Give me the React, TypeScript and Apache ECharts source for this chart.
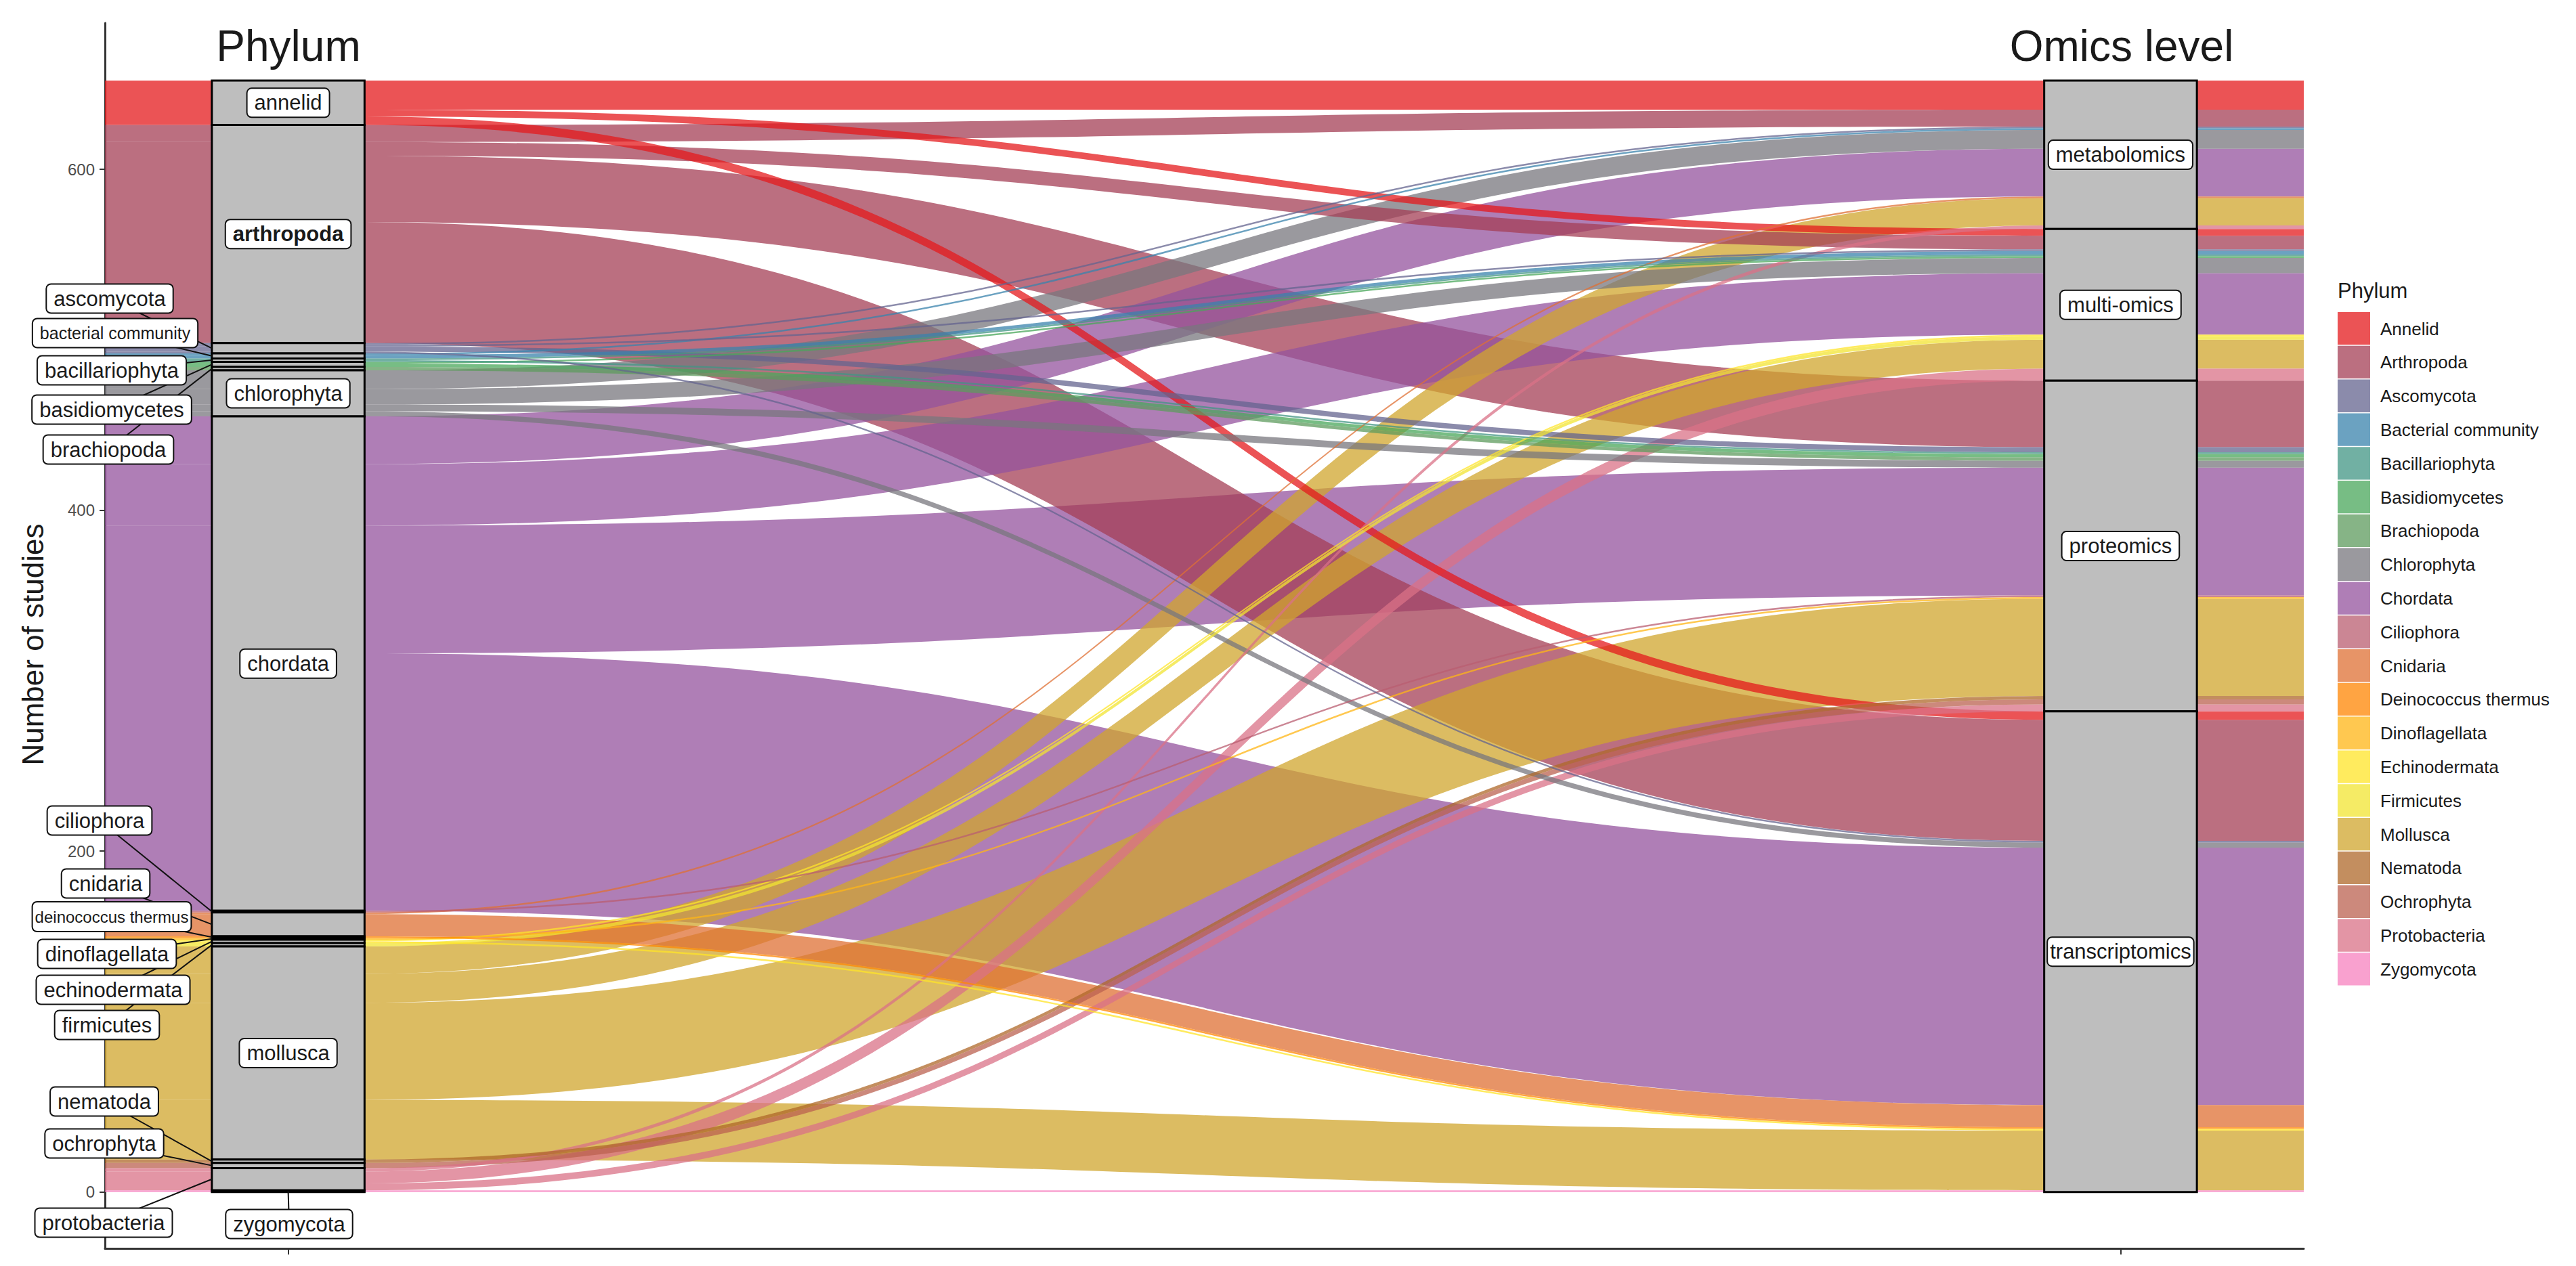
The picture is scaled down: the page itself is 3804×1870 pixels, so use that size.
import React, { useEffect, useRef } from "react";
import * as echarts from "echarts";

// ---------------- data ----------------
const phyla = [
  "annelid", "arthropoda", "ascomycota", "bacterial community", "bacillariophyta",
  "basidiomycetes", "brachiopoda", "chlorophyta", "chordata", "ciliophora",
  "cnidaria", "deinococcus thermus", "dinoflagellata", "echinodermata", "firmicutes",
  "mollusca", "nematoda", "ochrophyta", "protobacteria", "zygomycota",
];
const legendNames = [
  "Annelid", "Arthropoda", "Ascomycota", "Bacterial community", "Bacillariophyta",
  "Basidiomycetes", "Brachiopoda", "Chlorophyta", "Chordata", "Ciliophora",
  "Cnidaria", "Deinococcus thermus", "Dinoflagellata", "Echinodermata", "Firmicutes",
  "Mollusca", "Nematoda", "Ochrophyta", "Protobacteria", "Zygomycota",
];
const omicsLevels = ["metabolomics", "multi-omics", "proteomics", "transcriptomics"];

// studies per phylum (same order as phyla) for each omics level
const metabolomics =    [17, 10, 1, 1, 0, 0, 0, 11, 28, 0, 1, 0, 0, 0, 0, 16, 0, 0, 2, 0];
const multiOmics =      [4, 8, 1, 2, 1, 1, 0, 9, 36, 0, 0, 0, 0, 1, 2, 17, 0, 0, 7, 0];
const proteomics =      [0, 39, 3, 0, 1, 2, 2, 4, 75, 1, 0, 0, 1, 0, 0, 57, 2, 3, 4, 0];
const transcriptomics = [5, 71, 1, 0, 0, 0, 0, 3, 151, 0, 13, 1, 0, 1, 0, 35, 0, 0, 0, 1];

const yTickValues = [0, 200, 400, 600];

const phylumColors = [
  "#E41A1C", "#A43F55", "#64648F", "#3983AC", "#419584",
  "#4AA75B", "#5D9B5D", "#78777E", "#94539E", "#B95E70",
  "#DF7034", "#FF8603", "#FFB515", "#FFE428", "#F1E431",
  "#D0A62D", "#AF6829", "#BB6150", "#D97187", "#F781BF",
];

// ---------------- layout ----------------
const FONT = '"Liberation Sans", Arial, Helvetica, sans-serif';
const X_MIN = 0.9;
const X_MAX = 2.1;
const STRATUM_W = 1 / 12;
const Y_MIN = -33.1;
const Y_MAX = 685.8;
const FLOW_OPACITY = 0.75;
const LABEL_SIZE = 31;

const repelLayout: Record<string, { x: number; y: number; size?: number; pad?: number[]; below?: boolean }> = {
  ascomycota: { x: 162, y: 441 },
  "bacterial community": { x: 170, y: 492, size: 25, pad: [8, 10] },
  bacillariophyta: { x: 165, y: 547 },
  basidiomycetes: { x: 165, y: 605 },
  brachiopoda: { x: 160, y: 664 },
  ciliophora: { x: 147, y: 1212 },
  cnidaria: { x: 156, y: 1305 },
  "deinococcus thermus": { x: 165, y: 1354, size: 24, pad: [9, 3] },
  dinoflagellata: { x: 158, y: 1409 },
  echinodermata: { x: 167, y: 1462 },
  firmicutes: { x: 158, y: 1514 },
  nematoda: { x: 154, y: 1627 },
  ochrophyta: { x: 154, y: 1689 },
  protobacteria: { x: 153, y: 1806 },
  zygomycota: { x: 427, y: 1808, below: true },
};

function buildOption() {
  const omicsSeries = [metabolomics, multiOmics, proteomics, transcriptomics];
  const phylumTotals = phyla.map((_, i) => omicsSeries.reduce((s, a) => s + a[i], 0));
  const omicsTotals = omicsSeries.map((a) => a.reduce((s, v) => s + v, 0));
  const grand = omicsTotals.reduce((s, v) => s + v, 0);

  const leftTop: number[] = [];
  let acc = grand;
  phylumTotals.forEach((t) => { leftTop.push(acc); acc -= t; });
  const rightTop: number[] = [];
  acc = grand;
  omicsTotals.forEach((t) => { rightTop.push(acc); acc -= t; });

  // lode positions
  const ylMap: Record<string, number> = {};
  phyla.forEach((_, i) => {
    let t = leftTop[i];
    omicsSeries.forEach((arr, j) => {
      const c = arr[i];
      if (c > 0) { ylMap[i + "_" + j] = t; t -= c; }
    });
  });
  const flows: number[][] = [];
  omicsSeries.forEach((arr, j) => {
    let t = rightTop[j];
    phyla.forEach((_, i) => {
      const c = arr[i];
      if (c > 0) {
        flows.push([1, ylMap[i + "_" + j], t, c, i, j]);
        t -= c;
      }
    });
  });
  flows.sort((a, b) => b[3] - a[3]);

  const strata: number[][] = [];
  phyla.forEach((_, i) => strata.push([1, leftTop[i], leftTop[i] - phylumTotals[i], 0, i]));
  omicsLevels.forEach((_, j) => strata.push([2, rightTop[j], rightTop[j] - omicsTotals[j], 1, j]));

  const labels: number[][] = strata.map((s) => [s[0], (s[1] + s[2]) / 2, s[3], s[4]]);

  const f = (p: number[]) => p[0].toFixed(2) + "," + p[1].toFixed(2);

  const renderFlow = (params: any, api: any) => {
    const yl = api.value(1), yr = api.value(2), c = api.value(3), i = api.value(4);
    const xa = X_MIN, xb = 1 + STRATUM_W / 2, xc = 2 - STRATUM_W / 2, xd = X_MAX;
    const a0 = api.coord([xa, yl]), a1 = api.coord([xb, yl]);
    const b1 = api.coord([xc, yr]), b0 = api.coord([xd, yr]);
    const c0 = api.coord([xd, yr - c]), c1 = api.coord([xc, yr - c]);
    const d1 = api.coord([xb, yl - c]), d0 = api.coord([xa, yl - c]);
    const mx = (a1[0] + b1[0]) / 2;
    const pathData =
      "M" + f(a0) + " L" + f(a1) +
      " C" + f([mx, a1[1]]) + " " + f([mx, b1[1]]) + " " + f(b1) +
      " L" + f(b0) + " L" + f(c0) + " L" + f(c1) +
      " C" + f([mx, c1[1]]) + " " + f([mx, d1[1]]) + " " + f(d1) +
      " L" + f(d0) + " Z";
    return {
      type: "path",
      shape: { pathData },
      style: { fill: phylumColors[i], opacity: FLOW_OPACITY },
    };
  };

  const renderStratum = (params: any, api: any) => {
    const x = api.value(0), top = api.value(1), bot = api.value(2);
    const p1 = api.coord([x - STRATUM_W / 2, top]);
    const p2 = api.coord([x + STRATUM_W / 2, bot]);
    return {
      type: "rect",
      shape: { x: p1[0], y: p1[1], width: p2[0] - p1[0], height: p2[1] - p1[1] },
      style: { fill: "#BEBEBE", stroke: "#000", lineWidth: 3 },
    };
  };

  const nameOf = (kind: number, idx: number) => (kind === 0 ? phyla[idx] : omicsLevels[idx]);

  const renderSegment = (params: any, api: any) => {
    const x = api.value(0), yc = api.value(1), kind = api.value(2), idx = api.value(3);
    const lay = kind === 0 ? repelLayout[nameOf(kind, idx)] : undefined;
    if (!lay) return null;
    const target = lay.below ? api.coord([x, yc]) : api.coord([x - STRATUM_W / 2, yc]);
    return {
      type: "line",
      shape: { x1: lay.x, y1: lay.y, x2: target[0], y2: target[1] },
      style: { stroke: "#111", lineWidth: 2 },
    };
  };

  const renderLabel = (params: any, api: any) => {
    const x = api.value(0), yc = api.value(1), kind = api.value(2), idx = api.value(3);
    const name = nameOf(kind, idx);
    const lay = kind === 0 ? repelLayout[name] : undefined;
    const pos = lay ? [lay.x, lay.y] : api.coord([x, yc]);
    const size = lay && lay.size ? lay.size : LABEL_SIZE;
    const pad = lay && lay.pad ? lay.pad : name === "transcriptomics" ? [5, 3] : [5, 10];
    return {
      type: "text",
      x: pos[0],
      y: pos[1],
      style: {
        text: name,
        fontSize: size,
        fontFamily: FONT,
        fontWeight: name === "arthropoda" ? "bold" : "normal",
        fill: "#1a1a1a",
        align: "center",
        verticalAlign: "middle",
        backgroundColor: "#ffffff",
        borderColor: "#111",
        borderWidth: 2,
        borderRadius: 6,
        padding: pad,
      },
    };
  };

  // legend via graphic
  const legendChildren: any[] = [
    {
      type: "text",
      x: 3452,
      y: 429,
      style: { text: "Phylum", fontSize: 31, fontFamily: FONT, fill: "#1a1a1a", verticalAlign: "middle" },
    },
  ];
  legendNames.forEach((n, k) => {
    const y = 461 + k * 49.8;
    legendChildren.push({
      type: "rect",
      shape: { x: 3452, y: y, width: 48, height: 48.3 },
      style: { fill: phylumColors[k], opacity: FLOW_OPACITY },
    });
    legendChildren.push({
      type: "text",
      x: 3515,
      y: y + 24.5,
      style: { text: n, fontSize: 26, fontFamily: FONT, fill: "#1a1a1a", verticalAlign: "middle" },
    });
  });

  return {
    animation: false,
    backgroundColor: "#ffffff",
    textStyle: { fontFamily: FONT },
    grid: { left: 155, right: 402, top: 34, bottom: 26, containLabel: false },
    xAxis: {
      type: "value",
      min: X_MIN,
      max: X_MAX,
      axisLine: { show: true, onZero: false, lineStyle: { color: "#333", width: 3 } },
      axisTick: { show: true, customValues: [1, 2], length: 9, lineStyle: { color: "#333", width: 2 } },
      axisLabel: { show: false },
      splitLine: { show: false },
    },
    yAxis: {
      type: "value",
      min: Y_MIN,
      max: Y_MAX,
      axisLine: { show: true, onZero: false, lineStyle: { color: "#333", width: 3 } },
      axisTick: { show: true, customValues: yTickValues, length: 8, lineStyle: { color: "#333", width: 2 } },
      axisLabel: { show: true, customValues: yTickValues, fontSize: 24, color: "#4D4D4D", margin: 15, fontFamily: FONT },
      splitLine: { show: false },
    },
    graphic: [
      {
        type: "text",
        x: 426,
        y: 68,
        style: { text: "Phylum", fontSize: 64, fontFamily: FONT, fill: "#1a1a1a", align: "center", verticalAlign: "middle" },
      },
      {
        type: "text",
        x: 3133,
        y: 68,
        style: { text: "Omics level", fontSize: 64, fontFamily: FONT, fill: "#1a1a1a", align: "center", verticalAlign: "middle" },
      },
      {
        type: "text",
        x: 48,
        y: 952,
        rotation: Math.PI / 2,
        style: { text: "Number of studies", fontSize: 44, fontFamily: FONT, fill: "#1a1a1a", align: "center", verticalAlign: "middle" },
      },
      { type: "group", children: legendChildren },
    ],
    series: [
      { type: "custom", z: 1, silent: true, clip: false, encode: { x: 0, y: 1 }, data: flows, renderItem: renderFlow },
      { type: "custom", z: 2, silent: true, clip: false, encode: { x: 0, y: 1 }, data: strata, renderItem: renderStratum },
      { type: "custom", z: 3, silent: true, clip: false, encode: { x: 0, y: 1 }, data: labels, renderItem: renderSegment },
      { type: "custom", z: 4, silent: true, clip: false, encode: { x: 0, y: 1 }, data: labels, renderItem: renderLabel },
    ],
  };
}

export default function App() {
  const ref = useRef<HTMLDivElement>(null);
  useEffect(() => {
    document.body.style.margin = "0";
    const chart = echarts.init(ref.current as HTMLDivElement, null, { renderer: "svg" });
    chart.setOption(buildOption() as any);
    return () => chart.dispose();
  }, []);
  return <div ref={ref} style={{ width: 3804, height: 1870 }} />;
}
